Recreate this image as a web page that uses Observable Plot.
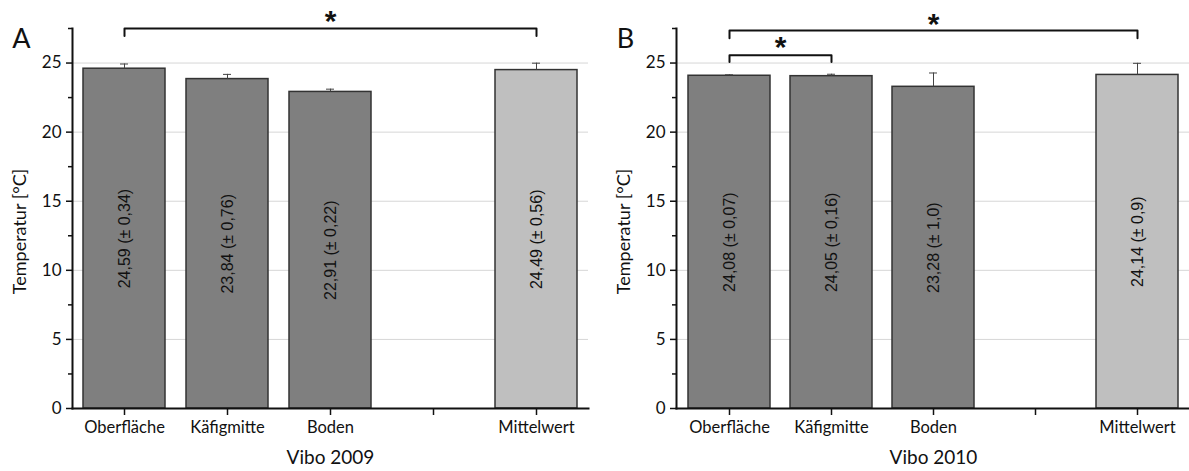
<!DOCTYPE html>
<html><head><meta charset="utf-8">
<script src="https://cdn.jsdelivr.net/npm/d3@7"></script>
<script src="https://cdn.jsdelivr.net/npm/@observablehq/plot@0.6"></script>
<style>
html,body{margin:0;padding:0;background:#fff;}
#wrap{display:flex;width:1189px;height:471px;overflow:hidden;}
#wrap svg{flex:none;}
</style></head><body><div id="wrap"></div>
<script>
// x slots (one empty slot before the mean)
const categories = ["Oberfläche", "Käfigmitte", "Boden", " ", "Mittelwert"];
const barCategories = ["Oberfläche", "Käfigmitte", "Boden", "Mittelwert"];

// Panel A – Vibo 2009
const valuesA = [24.59, 23.84, 22.91, 24.49];
const errorsA = [0.34, 0.34, 0.2, 0.5];
const labelsA = ["24,59 (± 0,34)", "23,84 (± 0,76)", "22,91 (± 0,22)", "24,49 (± 0,56)"];
const bracketsA = [{from: "Oberfläche", to: "Mittelwert", level: 27.5, foot: 26.95, star: 28.2}];

// Panel B – Vibo 2010
const valuesB = [24.08, 24.05, 23.28, 24.14];
const errorsB = [0.07, 0.14, 1.0, 0.84];
const labelsB = ["24,08 (± 0,07)", "24,05 (± 0,16)", "23,28 (± 1,0)", "24,14 (± 0,9)"];
const bracketsB = [
  {from: "Oberfläche", to: "Mittelwert", level: 27.36, foot: 26.8, star: 28.0},
  {from: "Oberfläche", to: "Käfigmitte", level: 25.56, foot: 25.07, star: 26.35}
];

const yTicks = [0, 5, 10, 15, 20, 25];
const yMinorTicks = [2.5, 7.5, 12.5, 17.5, 22.5, 27.5];
const yDomain = [0, 27.5];
const yTitle = "Temperatur [°C]";

function panel({letter, title, values, errors, labels, brackets, width, marginLeft, marginRight}) {
  const data = barCategories.map((c, i) => ({cat: c, value: values[i], top: values[i] + errors[i], label: labels[i]}));
  const bracketPts = brackets.flatMap((b, k) => [
    {k, x: b.from, y: b.foot}, {k, x: b.from, y: b.level},
    {k, x: b.to, y: b.level}, {k, x: b.to, y: b.foot}
  ]);
  const base = {
    width, height: 471, marginLeft, marginRight, marginTop: 28, marginBottom: 63,
    style: {fontFamily: "Lato, 'Open Sans', sans-serif", background: "white", overflow: "visible", color: "#111"},
    x: {domain: categories, paddingInner: 0.2, paddingOuter: 0.1},
    y: {domain: yDomain}
  };
  const probe = Plot.plot({...base, axis: null, marks: [Plot.barY(data, {x: "cat", y: "value"})]});
  const sx = probe.scale("x");
  const step = sx.step;
  const starMarks = brackets.map(b => Plot.text([b], {
    x: "from", y: "star", text: () => "*",
    dx: (categories.indexOf(b.to) - categories.indexOf(b.from)) * step / 2,
    fontSize: 30, fontWeight: "bold", fontFamily: "Liberation Sans, Arial, sans-serif", fill: "#111", lineAnchor: "middle", dy: 3
  }));
  return Plot.plot({
    ...base,
    marks: [
      Plot.gridY(yTicks.slice(1), {stroke: "#d6d6d6", strokeOpacity: 1, strokeWidth: 1}),
      Plot.barY(data, {x: "cat", y: "value", fill: d => d.cat === "Mittelwert" ? "#bfbfbf" : "#7f7f7f", stroke: "#333", strokeWidth: 1.5}),
      Plot.ruleX(data, {x: "cat", y1: "value", y2: "top", stroke: "#444", strokeWidth: 1}),
      Plot.tickY(data, {x: "cat", y: "top", stroke: "#444", strokeWidth: 1, insetLeft: sx.bandwidth / 2 - 4, insetRight: sx.bandwidth / 2 - 4}),
      Plot.text(data, {x: "cat", y: d => d.value / 2, text: "label", rotate: -90, textAnchor: "middle", fontSize: 16, fontFamily: "Liberation Sans, Arial, sans-serif", fill: "#111"}),
      Plot.frame({anchor: "left", stroke: "#111", strokeWidth: 2}),
      Plot.frame({anchor: "bottom", stroke: "#111", strokeWidth: 2}),
      Plot.axisY(yMinorTicks, {tickSize: 4, tickFormat: () => "", label: null, stroke: "#111", strokeWidth: 1.5}),
      Plot.axisY(yTicks, {tickSize: 6, tickPadding: 5, fontSize: 17, stroke: "#111", strokeWidth: 1.5, label: null}),
      Plot.axisX({tickSize: 7, tickPadding: 6, fontSize: 16.5, stroke: "#111", strokeWidth: 1.5, label: null}),
      Plot.text([yTitle], {frameAnchor: "left", text: d => d, rotate: -90, textAnchor: "middle", lineAnchor: "middle", dx: -52, dy: 13, fontSize: 18, fill: "#111"}),
      Plot.text([title], {frameAnchor: "bottom", text: d => d, textAnchor: "middle", lineAnchor: "middle", dy: 49, fontSize: 19, fill: "#111"}),
      Plot.line(bracketPts, {x: "x", y: "y", z: "k", stroke: "#111", strokeWidth: 2, curve: "linear"}),
      ...starMarks,
      Plot.text([letter], {frameAnchor: "top-left", text: d => d, textAnchor: "middle", lineAnchor: "middle", dx: -51, dy: 11, fontSize: 27, fill: "#111"})
    ]
  });
}

const wrap = document.getElementById("wrap");
wrap.append(panel({letter: "A", title: "Vibo 2009", values: valuesA, errors: errorsA, labels: labelsA, brackets: bracketsA, width: 594, marginLeft: 72, marginRight: 6}));
wrap.append(panel({letter: "B", title: "Vibo 2010", values: valuesB, errors: errorsB, labels: labelsB, brackets: bracketsB, width: 598, marginLeft: 82, marginRight: 2}));
</script></body></html>
